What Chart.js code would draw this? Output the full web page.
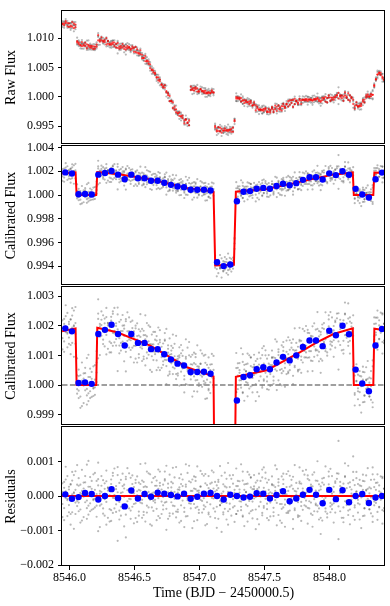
<!DOCTYPE html>
<html>
<head>
<meta charset="utf-8">
<script src="https://cdn.jsdelivr.net/npm/chart.js@4.4.0/dist/chart.umd.min.js"></script>
<style>
  html, body { margin: 0; padding: 0; background: #fff; }
  #wrap { position: relative; width: 390px; height: 606px; overflow: hidden; background: #fff; }
  canvas { position: absolute; left: 0; }
</style>
</head>
<body>
<div id="wrap">
  <canvas id="c1" width="390" height="155" style="top:0px"></canvas>
  <canvas id="c2" width="390" height="161" style="top:135px"></canvas>
  <canvas id="c3" width="390" height="160" style="top:276px"></canvas>
  <canvas id="c4" width="390" height="190" style="top:416px"></canvas>
</div>
<script>
// time stamps of the unbinned light curve (BJD - 2450000.5)
const timeGrid = [
  8545.945, 8545.958, 8545.970, 8545.983, 8545.995, 8546.008, 8546.020, 8546.033,
  8546.045, 8546.058, 8546.070, 8546.083, 8546.095, 8546.108, 8546.120, 8546.133,
  8546.145, 8546.158, 8546.170, 8546.183, 8546.195, 8546.208, 8546.220, 8546.233,
  8546.245, 8546.258, 8546.270, 8546.283, 8546.295, 8546.308, 8546.320, 8546.333,
  8546.345, 8546.358, 8546.370, 8546.383, 8546.395, 8546.408, 8546.420, 8546.433,
  8546.445, 8546.458, 8546.470, 8546.483, 8546.495, 8546.508, 8546.520, 8546.533,
  8546.545, 8546.558, 8546.570, 8546.583, 8546.595, 8546.608, 8546.620, 8546.633,
  8546.645, 8546.658, 8546.670, 8546.683, 8546.695, 8546.708, 8546.720, 8546.733,
  8546.745, 8546.758, 8546.770, 8546.783, 8546.795, 8546.808, 8546.820, 8546.833,
  8546.845, 8546.858, 8546.870, 8546.883, 8546.895, 8546.908, 8546.920, 8546.933,
  8546.945, 8546.958, 8546.970, 8546.983, 8546.995, 8547.008, 8547.020, 8547.033,
  8547.045, 8547.058, 8547.070, 8547.083, 8547.095, 8547.108, 8547.120, 8547.133,
  8547.145, 8547.158, 8547.170, 8547.183, 8547.195, 8547.208, 8547.220, 8547.233,
  8547.245, 8547.258, 8547.270, 8547.283, 8547.295, 8547.308, 8547.320, 8547.333,
  8547.345, 8547.358, 8547.370, 8547.383, 8547.395, 8547.408, 8547.420, 8547.433,
  8547.445, 8547.458, 8547.470, 8547.483, 8547.495, 8547.508, 8547.520, 8547.533,
  8547.545, 8547.558, 8547.570, 8547.583, 8547.595, 8547.608, 8547.620, 8547.633,
  8547.645, 8547.658, 8547.670, 8547.683, 8547.695, 8547.708, 8547.720, 8547.733,
  8547.745, 8547.758, 8547.770, 8547.783, 8547.795, 8547.808, 8547.820, 8547.833,
  8547.845, 8547.858, 8547.870, 8547.883, 8547.895, 8547.908, 8547.920, 8547.933,
  8547.945, 8547.958, 8547.970, 8547.983, 8547.995, 8548.008, 8548.020, 8548.033,
  8548.045, 8548.058, 8548.070, 8548.083, 8548.095, 8548.108, 8548.120, 8548.133,
  8548.145, 8548.158, 8548.170, 8548.183, 8548.195, 8548.208, 8548.220, 8548.233,
  8548.245, 8548.258, 8548.270, 8548.283, 8548.295, 8548.308, 8548.320, 8548.333,
  8548.345, 8548.358, 8548.370, 8548.383, 8548.395, 8548.408, 8548.420
]

// eclipse model at those times, (flux - 1) in units of 1e-5
const calModelGrid = [
  181, 182, 184, 185, 186, 187, 189, 190,
  191, 0, 0, 0, 0, 0, 0, 0,
  0, 0, 0, 0, 0, 70, 192, 191,
  190, 189, 187, 186, 185, 184, 182, 181,
  180, 179, 177, 175, 173, 171, 168, 166,
  164, 162, 160, 157, 155, 153, 151, 149,
  146, 144, 142, 140, 138, 135, 133, 130,
  127, 123, 120, 117, 114, 110, 107, 104,
  101, 98, 95, 91, 88, 85, 82, 78,
  75, 72, 69, 65, 62, 59, 57, 55,
  54, 52, 50, 48, 46, 44, 42, 40,
  38, 36, 35, 33, 31, 29, -550, -594,
  -594, -593, -593, -592, -592, -591, -590, -590,
  -589, -589, -380, 28, 29, 31, 32, 33,
  34, 35, 36, 38, 39, 40, 41, 42,
  43, 44, 46, 47, 48, 49, 50, 54,
  56, 59, 62, 65, 68, 71, 74, 77,
  80, 83, 86, 89, 92, 95, 98, 101,
  104, 107, 110, 113, 116, 120, 123, 126,
  129, 133, 136, 139, 142, 145, 148, 151,
  153, 156, 159, 161, 164, 167, 170, 172,
  174, 175, 177, 179, 180, 182, 183, 185,
  187, 188, 190, 120, 0, 0, 0, 0,
  0, 0, 0, 0, 0, 0, 0, 0,
  180, 189, 188, 187, 187, 186, 185
]

// raw (uncalibrated) flux level at those times, (flux - 1) in 1e-5
const rawTrendGrid = [
  1249, 1243, 1237, 1232, 1226, 1220, 1215, 1209,
  1201, 916, 907, 898, 889, 879, 871, 863,
  856, 848, 841, 833, 826, 880, 985, 975,
  967, 957, 948, 938, 927, 915, 905, 893,
  882, 873, 867, 861, 856, 849, 844, 838,
  834, 829, 824, 819, 815, 805, 779, 751,
  726, 698, 667, 634, 603, 570, 525, 476,
  431, 383, 338, 296, 258, 218, 180, 140,
  102, 42, -21, -90, -154, -202, -234, -269,
  -301, -333, -359, -387, -413, -441, -469, 145,
  139, 131, 123, 115, 106, 99, 94, 89,
  84, 79, 75, 70, 65, 60, -500, -561,
  -562, -564, -565, -566, -567, -569, -570, -572,
  -573, -574, -390, -22, -32, -43, -53, -63,
  -73, -84, -94, -104, -114, -124, -140, -165,
  -188, -213, -230, -232, -233, -234, -234, -233,
  -229, -222, -215, -207, -200, -192, -185, -178,
  -170, -154, -138, -120, -104, -97, -93, -89,
  -85, -81, -77, -72, -68, -64, -60, -56,
  -52, -50, -49, -48, -47, -46, -46, -45,
  -44, -43, -42, -41, -40, -38, -30, -20,
  -10, 0, 0, 0, 0, 0, 0, 0,
  -5, -10, -18, -130, -158, -156, -153, -151,
  -124, -87, -52, -14, 5, 14, 22, 30,
  180, 290, 380, 410, 375, 335, 300
]

// scatter of four exposures per time stamp around the model, 1e-5
const noiseA = [
  12, -35, 48, -8, 27, -52, 5, 61, -19, 33,
  -44, 9, -71, 22, 40, -13, -28, 55, 3, -37,
  18, -60, 31, 7, -24, 46, -9, -83, 25, 14,
  -41, 67, -6, 29, -130, 38, -57, 11, -2, 49,
  -30, 20, -66, 35, 8, -21, 57, -45, 16, -11,
  41, -74, 26, -4, 63, -33, 10, -19, 45, -58,
  30, 2, -39, 71, -17, 24, -50, 13, 37, -8,
  -62, 19, 52, -27, 6, -46, 33, -12, 88, -36,
  15, -23, 44, -70, 9, 27, -14, 59, -31, 1,
  -48, 36, -5, 22, -64, 17, 41, -26, 7, -53,
  68, -20, 12, -38, 50, -9, -75, 29, 3, 43,
  -16, -57, 34, 11, -29, 62, -44, 20, -7, 39,
  -67, 25, -1, 54, -34, 14, -22, 47, -59, 8,
  31, -12, -85, 40, 18, -37, 65, -25, 5, -49,
  27, -3, 56, -41, 13, -18, 37, -72, 22, 9,
  -30, 60, -15, 33, -55, 4, 45, -28, 16, -63,
  51, -10, -36, 24, 71, -47, 7, -21, 38, -6,
  160, 29, 14, -33, 58, -17, -42, 26, -1, 46,
  -69, 12, 35, -24, 8, -58, 43, -13, 21, -39,
  -4, 63, -27, 18, -46, 31, -11, 52, -35
]
const noiseB = [
  -23, 41, -6, -58, 19, 35, -47, 8, 72, -14,
  30, -39, 15, -2, 58, -66, 27, -21, 44, -9,
  -33, 6, 97, -28, 12, -51, 37, -17, 23, -74,
  48, -5, -36, 20, 61, -42, 9, -25, 33, -120,
  17, -8, 53, -31, 26, -64, 2, 39, -19, 45,
  -55, 14, -28, 66, -11, 7, -43, 30, -70, 21,
  38, -16, -3, 49, -37, 11, -58, 25, 82, -29,
  4, -46, 18, 35, -13, -90, 27, -6, 43, -22,
  -9, 57, -34, 15, -49, 28, 6, -38, 64, -18,
  23, -60, 39, -7, 13, -31, 47, -27, -104, 34,
  -12, 25, -44, 60, 3, -33, 18, -52, 29, 10,
  -41, 71, -8, -25, 36, -14, 55, -65, 20, -3,
  45, -30, 11, -56, 24, 68, -38, 7, -19, 32,
  -47, 15, -1, 49, -23, -78, 35, -10, 26, -44,
  59, -15, 21, -36, 4, -61, 42, -29, 13, -5,
  76, -34, 17, -51, 28, -9, -26, 44, -68, 19,
  -2, 33, -45, 12, 57, -20, -38, 27, -7, 50,
  -30, 9, -63, 36, -15, 23, -55, 40, -11, 115,
  -27, 14, -48, 31, -4, 62, -36, 18, -21, 8,
  47, -59, 26, -12, 39, -33, 5, -80, 22
]
const noiseC = [
  -61, 24, 85, -12, -47, 33, 70, -95, 18, -29,
  52, -77, 6, 39, -18, 91, -54, 27, -40, 63,
  -8, 44, -102, 15, 58, -36, 21, 74, -63, 2,
  35, -49, 80, -24, 11, -68, 47, 29, -88, 56,
  -15, 66, -42, 9, -79, 38, 14, -57, 93, -21,
  -46, 28, 71, -33, 5, -86, 52, -11, 30, 77,
  -64, 19, -27, 45, -98, 36, 62, -18, -51, 12,
  84, -39, 25, -72, 48, 3, -59, 67, -13, 40,
  -93, 22, 55, -31, 16, 73, -48, -6, 37, -81,
  58, -24, 10, 69, -45, 31, -66, 87, -20, 13,
  -37, 50, -83, 26, 7, 61, -29, -52, 44, -15,
  92, -60, 18, 35, -74, 4, 53, -41, 28, -96,
  20, 65, -17, -49, 83, -8, 39, -70, 11, 57,
  -34, 26, 78, -55, 1, -23, 48, -89, 64, 15,
  -42, 31, -67, 90, -12, 22, -58, 36, 73, -27,
  9, -80, 46, -19, 62, -44, 16, 101, -36, 28,
  -71, 53, -5, -62, 34, 79, -25, 12, -48, 66,
  -125, 41, 20, -76, 55, -14, 88, -39, 7, -58,
  32, 70, -21, 47, -93, 18, -35, 60, -8, 25,
  -50, 83, -16, 38, -69, 14, 57, -41, 21
]
const noiseD = [
  37, -70, 14, 58, -26, -83, 45, 11, -52, 90,
  -19, 33, 76, -61, 8, -35, 102, -44, 21, -12,
  67, -28, 49, -90, 30, -5, -57, 43, 16, -38,
  -72, 59, 3, -46, 84, -17, -31, 65, 22, -54,
  81, -36, -9, 60, -23, 47, -75, 18, 35, -63,
  26, 95, -48, 12, -82, 40, -14, 56, -37, -6,
  71, -52, 33, -19, 88, -66, 7, 41, -28, 54,
  -45, 10, -77, 63, 29, -34, 92, -58, -21, 15,
  48, -73, 20, 86, -40, -11, 64, -27, -85, 32,
  -53, 17, 74, -36, 41, -92, 23, -14, 59, -47,
  28, -68, 96, -22, -57, 36, 9, 80, -43, 19,
  -31, 45, -87, 12, 70, -50, 25, -16, 61, -39,
  13, -82, 44, 77, -29, 51, -64, 18, -12, 35,
  -58, 89, -20, 30, -71, 57, -33, 6, -49, 72,
  -24, 47, -95, 15, 38, -56, 83, -17, -40, 62,
  -13, 50, -36, 27, -89, 69, -22, -45, 34, -110,
  39, -15, 86, -51, 20, -30, 58, -77, 43, -9,
  65, -44, 25, -63, 95, -26, 37, -82, 19, 70,
  -33, 52, -11, -68, 29, 44, -57, 16, 81, -38,
  22, -75, 48, -20, 63, -31, 10, 56, -44
]

// red model curve (knots), (flux - 1) in 1e-5
const modelTimes = [
  8545.942, 8546.046, 8546.054, 8546.205, 8546.213, 8546.365, 8546.621, 8546.749,
  8546.903, 8547.108, 8547.121, 8547.265, 8547.280, 8547.518, 8547.775, 8547.903,
  8548.031, 8548.180, 8548.188, 8548.338, 8548.346, 8548.428
]
const modelFlux = [
  181, 191, 0, 0, 193, 178, 133, 100,
  60, 29, -594, -588, 28, 50, 111, 144,
  172, 191, 0, 0, 190, 185
]

// blue binned points
const binTimes = [
  8545.967, 8546.018, 8546.069, 8546.119, 8546.170, 8546.221, 8546.272, 8546.323,
  8546.373, 8546.424, 8546.475, 8546.526, 8546.577, 8546.627, 8546.678, 8546.729,
  8546.780, 8546.831, 8546.881, 8546.932, 8546.983, 8547.034, 8547.085, 8547.135,
  8547.186, 8547.237, 8547.288, 8547.339, 8547.389, 8547.440, 8547.491, 8547.542,
  8547.593, 8547.643, 8547.694, 8547.745, 8547.796, 8547.847, 8547.897, 8547.948,
  8547.999, 8548.050, 8548.101, 8548.151, 8548.202, 8548.253, 8548.304, 8548.355,
  8548.405
]
const binFlux = [
  191, 181, 7, 9, 4, 172, 186, 203, 172, 133,
  172, 142, 142, 121, 121, 104, 86, 72, 66, 44,
  44, 45, 38, -567, -600, -587, -52, 27, 33, 53,
  60, 53, 76, 95, 83, 100, 128, 150, 150, 131,
  183, 168, 200, 171, 52, 5, -21, 133, 189
]
const binResid = [
  5, -8, -3, 9, 6, -10, 0, 20, -6, -30,
  16, -7, 6, -2, 10, 7, 3, -1, 7, -8,
  -2, 7, 9, 0, -10, 4, 0, -4, -2, 8,
  7, -7, 3, 14, -15, -7, 4, 18, 4, -21,
  18, -9, 17, -18, 0, 6, -20, -4, 0
]

const xTicks = [8546.0, 8546.5, 8547.0, 8547.5, 8548.0]
const rawTicks = [0.995, 1.000, 1.005, 1.010]
const calTicks = [0.994, 0.996, 0.998, 1.000, 1.002, 1.004]
const zoomTicks = [0.999, 1.000, 1.001, 1.002, 1.003]
const residTicks = [-0.002, -0.001, 0.000, 0.001]

const X_MIN = 8545.9415
const X_MAX = 8548.428
const SCALE = 1e-5

Chart.defaults.font.family = "'Liberation Serif', 'DejaVu Serif', serif"
Chart.defaults.font.size = 12
Chart.defaults.color = '#000'

// build the point sets
const grayCal = []
const grayRaw = []
const grayRes = []
const redRaw = []
timeGrid.forEach((t, i) => {
  const exposures = [noiseA[i], noiseB[i], noiseC[i], noiseD[i]]
  exposures.forEach(n => {
    grayCal.push({ x: t, y: 1 + (calModelGrid[i] + n) * SCALE })
    grayRaw.push({ x: t, y: 1 + (rawTrendGrid[i] + n) * SCALE })
    grayRes.push({ x: t, y: n * SCALE })
  })
  // binned raw flux: mean of each pair of exposures
  redRaw.push({ x: t, y: 1 + (rawTrendGrid[i] + (noiseA[i] + noiseB[i]) / 2) * SCALE })
  redRaw.push({ x: t, y: 1 + (rawTrendGrid[i] + (noiseC[i] + noiseD[i]) / 2) * SCALE })
})
const modelLine = modelTimes.map((t, i) => ({ x: t, y: 1 + modelFlux[i] * SCALE }))
const zeroLine = modelTimes.map(t => ({ x: t, y: 0 }))
const binPts = binTimes.map((t, i) => ({ x: t, y: 1 + binFlux[i] * SCALE }))
const binResPts = binTimes.map((t, i) => ({ x: t, y: binResid[i] * SCALE }))
const unityLine = [{ x: X_MIN, y: 1 }, { x: X_MAX, y: 1 }]

const fmt = v => v.toFixed(3).replace('-', '\u2212')

// frame around every panel
const frame = {
  id: 'frame',
  afterDraw (chart) {
    const a = chart.chartArea
    const ctx = chart.ctx
    ctx.save()
    ctx.strokeStyle = '#000'
    ctx.lineWidth = 1
    const l = Math.round(a.left) - 0.5
    const t = Math.round(a.top) - 0.5
    const r = Math.round(a.right) - 0.5
    const b = Math.round(a.bottom) - 0.5
    ctx.strokeRect(l, t, r - l, b - t)
    ctx.restore()
  }
}

function yAxis (min, max, ticks, title) {
  return {
    type: 'linear',
    min,
    max,
    afterBuildTicks: s => { s.ticks = ticks.map(v => ({ value: v })) },
    afterFit: s => { s.width = 62 },
    ticks: { callback: v => fmt(v), padding: 4, autoSkip: false, color: '#000' },
    grid: { drawOnChartArea: false, drawTicks: true, tickLength: 4, color: '#000' },
    border: { display: false },
    title: { display: true, text: title, color: '#000', font: { size: 14 }, padding: { top: 3, bottom: 0 } }
  }
}

function xAxis (show) {
  if (!show) return { type: 'linear', min: X_MIN, max: X_MAX, display: false }
  return {
    type: 'linear',
    min: X_MIN,
    max: X_MAX,
    afterBuildTicks: s => { s.ticks = xTicks.map(v => ({ value: v })) },
    afterFit: s => { s.height = 40 },
    ticks: { callback: v => v.toFixed(1), padding: 1, autoSkip: false, maxRotation: 0, color: '#000' },
    grid: { drawOnChartArea: false, drawTicks: true, tickLength: 4, color: '#000' },
    border: { display: false },
    title: { display: true, text: 'Time (BJD \u2212 2450000.5)', color: '#000', font: { size: 14 }, padding: { top: 0, bottom: 4.6 } }
  }
}

function makeChart (id, datasets, yScale, showX, padding) {
  return new Chart(document.getElementById(id), {
    type: 'scatter',
    data: { datasets },
    options: {
      responsive: false,
      animation: false,
      devicePixelRatio: 1,
      events: [],
      layout: { padding },
      plugins: { legend: { display: false }, tooltip: { enabled: false } },
      scales: { x: xAxis(showX), y: yScale }
    },
    plugins: [frame]
  })
}

const grayStyle = { pointRadius: 1.1, pointBackgroundColor: 'rgba(0,0,0,0.28)', pointBorderWidth: 0 }
const blueStyle = { pointRadius: 3.2, pointBackgroundColor: '#0000ff', pointBorderWidth: 0 }
const redLine = { showLine: true, borderColor: '#ff0000', borderWidth: 2, pointRadius: 0, tension: 0 }

// panel 1: raw flux
makeChart('c1', [
  { data: redRaw, pointRadius: 1.1, pointBackgroundColor: 'rgba(255,0,0,0.7)', pointBorderWidth: 0 },
  { data: grayRaw, ...grayStyle }
], yAxis(0.991984, 1.014565, rawTicks, 'Raw Flux'), false, { top: 5, bottom: 10, left: 0, right: 5 })

// panel 2: calibrated flux
makeChart('c2', [
  { data: binPts, ...blueStyle },
  { data: modelLine, ...redLine },
  { data: grayCal, ...grayStyle }
], yAxis(0.992423, 1.00412, calTicks, 'Calibrated Flux'), false, { top: 10, bottom: 10, left: 0, right: 5 })

// panel 3: calibrated flux, zoomed
makeChart('c3', [
  { data: binPts, ...blueStyle },
  { data: modelLine, ...redLine },
  { data: unityLine, showLine: true, borderColor: '#808080', borderWidth: 1.5, borderDash: [5.5, 2.4], pointRadius: 0 },
  { data: grayCal, ...grayStyle }
], yAxis(0.998659, 1.003298, zoomTicks, 'Calibrated Flux'), false, { top: 10, bottom: 10, left: 0, right: 5 })

// panel 4: residuals
makeChart('c4', [
  { data: binResPts, ...blueStyle },
  { data: zeroLine, ...redLine },
  { data: grayRes, ...grayStyle }
], yAxis(-0.002029, 0.001998, residTicks, 'Residuals'), true, { top: 10, bottom: 0, left: 0, right: 5 })
</script>
</body>
</html>
